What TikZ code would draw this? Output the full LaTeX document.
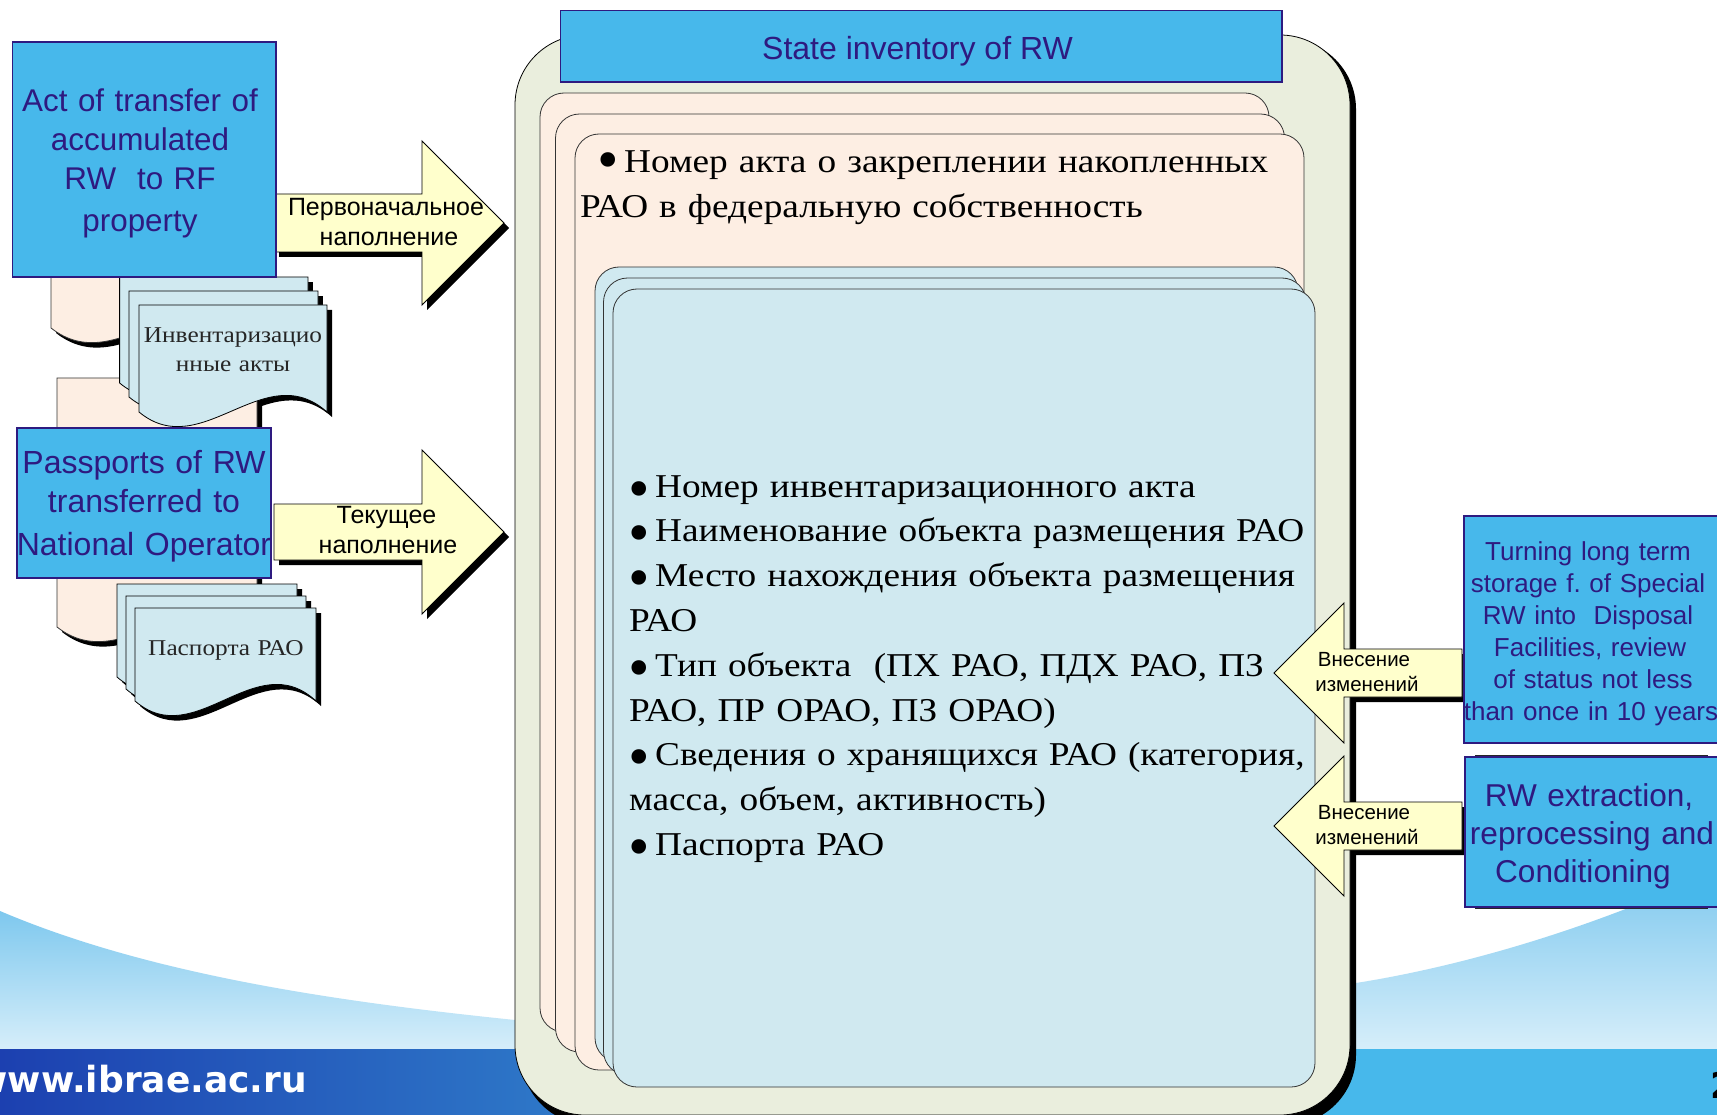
\documentclass[tikz,border=0pt]{standalone}
\usepackage{fontspec}
\setmainfont{Liberation Sans}
\newfontfamily\rusf[FakeStretch=1.12]{Liberation Serif}
\newfontfamily\urlf{DejaVu Sans}
\frenchspacing
\definecolor{inkp}{HTML}{2E1A80}
\definecolor{boxb}{HTML}{47B8EB}
\definecolor{sage}{HTML}{EAEEDD}
\definecolor{peach}{HTML}{FDEEE3}
\definecolor{pale}{HTML}{D0E9F0}
\definecolor{lemon}{HTML}{FFFFCC}
\definecolor{skytop}{HTML}{7EC8EE}
\definecolor{skybot}{HTML}{D6EEFA}
\definecolor{bandl}{HTML}{1C40B0}
\definecolor{bandr}{HTML}{2E78C8}
\newcommand{\docp}[4]{(#1,#2) -- (#3,#2) -- (#3,#4) .. controls ({(#1+2*#3)/3},{#4-56}) and ({(2*#1+#3)/3},{#4+52}) .. (#1,#4) -- cycle}
\newcommand{\arrR}[6]{(#1,#2) -- (#3,#2) -- (#3,#4) -- (#5,#6) -- (#3,{2*#6-#4}) -- (#3,{2*#6-#2}) -- (#1,{2*#6-#2}) -- cycle}
\newcommand{\bul}[1]{\makebox[26pt][l]{\hspace*{-5pt}\raisebox{-#1}{\urlf\fontsize{50}{37}\selectfont •}}}
\tikzset{
  x=1pt,y=-1pt,
  bluebox/.style={fill=boxb,draw=inkp,line width=1.3pt},
  card/.style={draw=black!80,line width=.8pt,rounded corners=24pt},
  doc/.style={fill=pale,draw=black,line width=.8pt},
  blk/.style={fill=black},
  arrowshape/.style={fill=lemon,draw=black,line width=.9pt},
  txt/.style={inner sep=0pt,anchor=base,align=center},
  btxt/.style={txt,text=inkp,font=\fontsize{32}{39}\selectfont},
  rtxt/.style={inner sep=0pt,anchor=base west,align=left,font=\rusf\fontsize{33.3}{44.8}\selectfont},
  atxt/.style={txt,font=\fontsize{25}{30}\selectfont},
  ctxt/.style={txt,font=\fontsize{20.5}{25.5}\selectfont},
  dtxt/.style={txt,font=\rusf\fontsize{22.6}{29}\selectfont,text=black!85},
}
\begin{document}
\begin{tikzpicture}
\useasboundingbox (0,0) rectangle (1717,1115);
\clip (0,0) rectangle (1717,1115);
\fill[white] (0,0) rectangle (1717,1115);
% background
\shade[top color=skytop,bottom color=skybot] (0,911) .. controls (150,975) and (340,1002) .. (515,1020) -- (515,1049) -- (0,1049) -- cycle;
\shade[top color=skytop,bottom color=skybot] (1356,983) .. controls (1470,965) and (1600,925) .. (1717,870) -- (1717,1049) -- (1356,1049) -- cycle;
\shade[left color=bandl,right color=bandr] (0,1049) rectangle (560,1115);
\fill[boxb] (1300,1049) rectangle (1717,1115);
\node[inner sep=0pt,anchor=base east,text=white,font=\urlf\bfseries\fontsize{36}{40}\selectfont] (url) at (307,1092) {www.ibrae.ac.ru};
\node[inner sep=0pt,anchor=base west,text=black,font=\urlf\bfseries\fontsize{36}{40}\selectfont] (pageno) at (1710,1098) {2};
% shadows of the right arrows lie behind the frame
\fill[blk,shift={(5,5)}] \arrR{1462}{649}{1344}{603}{1274}{673};
\fill[blk,shift={(5,5)}] \arrR{1462}{802}{1344}{756}{1274}{826};
% large frame
\fill[blk,rounded corners=70pt] (521,39) rectangle (1356,1125);
\draw[fill=sage,draw=black,line width=.8pt,rounded corners=70pt] (515,35) rectangle (1350,1115);
% peach cards
\draw[card,fill=peach] (540,93) rectangle (1269,1032);
\draw[card,fill=peach] (555.5,114) rectangle (1284.5,1052);
\draw[card,fill=peach] (575,134) rectangle (1304,1070);
% pale cards
\draw[card,fill=pale] (595,267) rectangle (1298,1062);
\draw[card,fill=pale] (603.5,278) rectangle (1306,1075);
\draw[card,fill=pale] (613,289) rectangle (1315,1087);
% title
\draw[bluebox] (560.5,10.5) rectangle (1282,82);
\node[txt,text=inkp,font=\fontsize{32}{39}\selectfont] (title) at (917.5,60) {State inventory of RW};
% card texts
\node[rtxt,text width=730pt] (acttext) at (580,173) {\hspace*{18pt}\bul{6pt}Номер акта о закреплении накопленных\\РАО в федеральную собственность};
\node[rtxt,text width=700pt] (listtext) at (629,497) {\bul{10pt}Номер инвентаризационного акта\\\bul{10pt}Наименование объекта размещения РАО\\\bul{10pt}Место нахождения объекта размещения\\РАО\\\bul{10pt}Тип объекта\ \ (ПХ РАО, ПДХ РАО, ПЗ\\РАО, ПР ОРАО, ПЗ ОРАО)\\\bul{10pt}Сведения о хранящихся РАО (категория,\\масса, объем, активность)\\\bul{10pt}Паспорта РАО};
% left documents, back
\fill[blk,shift={(5,5)}] \docp{51}{240}{250}{328};
\draw[fill=peach,draw=black!80,line width=.8pt] \docp{51}{240}{250}{328};
\fill[blk] (120,277) ++(5,5) rectangle (313,300);
\fill[blk] (129,291) ++(5,5) rectangle (323,315);
\fill[blk,shift={(5,5)}] \docp{139}{305}{327}{412};
\fill[blk,shift={(5,5)}] \docp{57}{378}{257}{627};
\draw[fill=peach,draw=black!80,line width=.8pt] \docp{57}{378}{257}{627};
\draw[doc] \docp{119.6}{277}{308}{383};
\draw[doc] \docp{129}{291}{318}{397};
\draw[doc] \docp{139}{305}{327}{412};
\node[dtxt,text width=190pt] (invdoc) at (233,343) {Инвентаризацио\\нные акты};
\fill[blk,shift={(5,5)}] \docp{117}{584}{297}{677};
\draw[doc] \docp{117}{584}{297}{677};
\fill[blk,shift={(5,5)}] \docp{126}{596}{306}{689};
\draw[doc] \docp{126}{596}{306}{689};
\fill[blk,shift={(5,5)}] \docp{135}{608}{316}{701};
\draw[doc] \docp{135}{608}{316}{701};
\node[dtxt,text width=170pt] (passdoc) at (226,655) {Паспорта РАО};
% arrows to the register
\fill[blk,shift={(5,5)}] \arrR{274}{194}{422}{141}{504}{223};
\draw[arrowshape] \arrR{274}{194}{422}{141}{504}{223};
\node[atxt,text width=210pt] (firstfill) at (386,216) {Первоначальное\\\hspace*{6pt}наполнение};
\fill[blk,shift={(5,5)}] \arrR{274}{504}{422}{450}{504}{532};
\draw[arrowshape] \arrR{274}{504}{422}{450}{504}{532};
\node[atxt,text width=210pt] (curfill) at (388,523) {\hspace*{-3pt}Текущее\\наполнение};
% arrows from the right
\draw[arrowshape] \arrR{1462}{649}{1344}{603}{1274}{673};
\node[ctxt,text width=130pt] (changea) at (1367,666) {\hspace*{-6pt}Внесение\\изменений};
\draw[arrowshape] \arrR{1462}{802}{1344}{756}{1274}{826};
\node[ctxt,text width=130pt] (changeb) at (1367,819) {\hspace*{-6pt}Внесение\\изменений};
% source boxes
\draw[bluebox] (12.5,42) rectangle (276,277);
\node[btxt,font=\fontsize{31.4}{39}\selectfont,text width=260pt] (acttransfer) at (140,111.5) {Act of transfer of\\accumulated\\RW\ \ to RF\\[3pt]property};
\draw[bluebox] (17,428) rectangle (271,578);
\node[btxt,text width=255pt] (passports) at (144,473) {Passports of RW\\transferred to\\[4pt]National Operator};
\draw[bluebox] (1464,516) rectangle (1720,743);
\node[txt,text=inkp,font=\fontsize{26}{32}\selectfont,text width=280pt] (turning) at (1588,560) {Turning long term\\storage f. of Special\\RW into\ \ Disposal\\\hspace*{4pt}Facilities, review\\\hspace*{10pt}of status not less\\\hspace*{6pt}than once in 10 years};
\fill[black!85] (1475,755) rectangle (1708,909);
\draw[bluebox] (1465,757) rectangle (1720,907);
\node[btxt,font=\fontsize{31.6}{38}\selectfont,text width=270pt] (extract) at (1589,806) {RW extraction,\\\hspace*{6pt}reprocessing and\\\hspace*{-12pt}Conditioning};
\end{tikzpicture}
\end{document}
